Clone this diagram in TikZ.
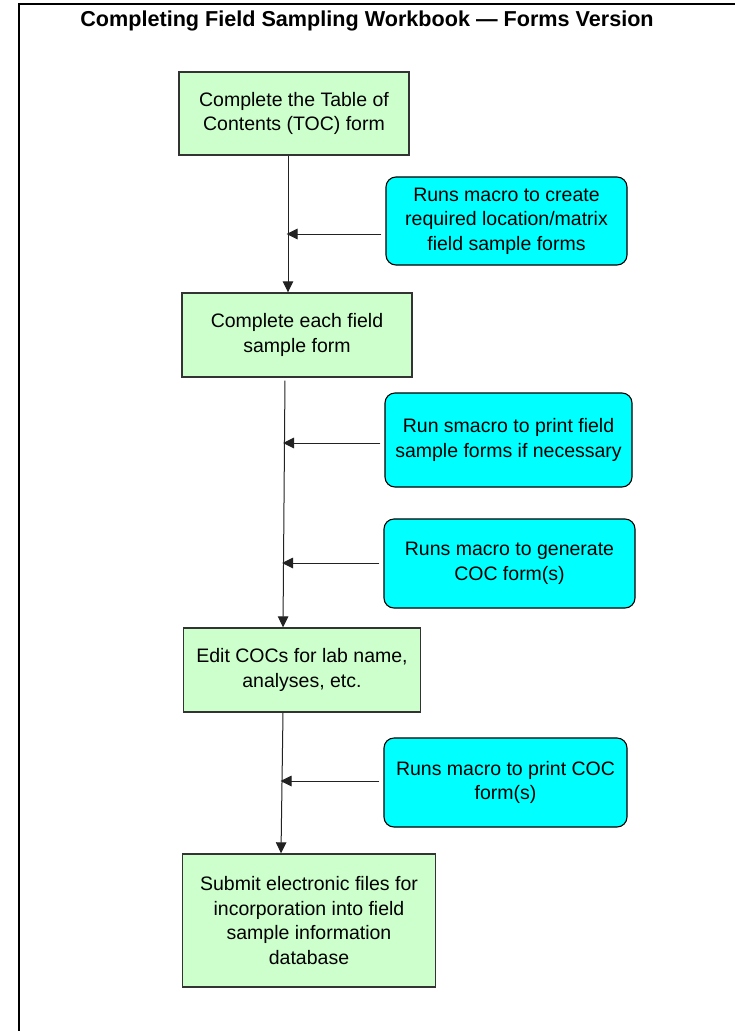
\documentclass[tikz,border=0pt]{standalone}
\usepackage{fontspec}
\setmainfont{Liberation Sans}
\usetikzlibrary{arrows.meta}
\definecolor{stepgreen}{HTML}{CCFFCC}
\definecolor{macrocyan}{HTML}{00FFFF}
\definecolor{edgegray}{HTML}{333333}
\definecolor{linegray}{HTML}{222222}
\begin{document}
\begin{tikzpicture}[x=1pt,y=-1pt,
  boxfont/.style={font=\fontsize{19.5}{24.5}\selectfont},
  stepbox/.style={boxfont, draw=edgegray, line width=1.4pt, fill=stepgreen,
    inner sep=0pt, align=center},
  macrobox/.style={boxfont, draw=black, line width=1.1pt, fill=macrocyan,
    rounded corners=10pt, inner sep=0pt, align=center},
  arr/.style={draw=linegray, line width=1pt, -{Triangle[length=11pt,width=10.5pt]}}
]
\useasboundingbox (0,0) rectangle (734,1031);
\fill[white] (0,0) rectangle (734,1031);

% frame
\draw[line width=2pt, line cap=rect] (19.3,1035) -- (19.3,3.7) -- (740,3.7);

% title
\node[anchor=base, font=\bfseries\fontsize{21.6}{26}\selectfont] (title) at (367,26.7)
  {Completing Field Sampling Workbook — Forms Version};

% main steps
\node[stepbox, minimum width=230pt, minimum height=83pt] (b1) at (294,113.5)
  {Complete the Table of\\Contents (TOC) form};
\node[stepbox, minimum width=230pt, minimum height=84pt] (b2) at (297,335)
  {Complete each field\\sample form};
\node[stepbox, minimum width=237.5pt, minimum height=84pt] (b3) at (302,670)
  {Edit COCs for lab name,\\analyses, etc.};
\node[stepbox, minimum width=252.5pt, minimum height=133pt] (b4) at (309,920.5)
  {Submit electronic files for\\incorporation into field\\sample information\\database};

% macro boxes
\node[macrobox, minimum width=241pt, minimum height=88pt] (c1) at (506.5,221)
  {Runs macro to create\\required location/matrix\\field sample forms};
\node[macrobox, minimum width=247pt, minimum height=94pt] (c2) at (508.5,440)
  {Run smacro to print field\\sample forms if necessary};
\node[macrobox, minimum width=251pt, minimum height=89pt] (c3) at (509.5,563.5)
  {Runs macro to generate\\COC form(s)};
\node[macrobox, minimum width=243pt, minimum height=89pt] (c4) at (505.5,782.5)
  {Runs macro to print COC\\form(s)};

% spine connectors
\draw[arr] ([xshift=-6pt]b1.south) -- ([xshift=-9pt]b2.north);
\draw[arr, shorten <=3pt] ([xshift=-12pt]b2.south) -- ([xshift=-19pt]b3.north);
\draw[arr] ([xshift=-19pt]b3.south) -- ([xshift=-28pt]b4.north);

% junction points on the spine
\coordinate (j1) at (286.5,234);
\coordinate (j2) at (283,443);
\coordinate (j3) at (282,563);
\coordinate (j4) at (280.5,781);

% side connectors
\draw[arr, shorten <=4pt] (c1.west |- j1) -- (j1);
\draw[arr, shorten <=4pt] (c2.west |- j2) -- (j2);
\draw[arr, shorten <=4pt] (c3.west |- j3) -- (j3);
\draw[arr, shorten <=4pt] (c4.west |- j4) -- (j4);
\end{tikzpicture}
\end{document}
